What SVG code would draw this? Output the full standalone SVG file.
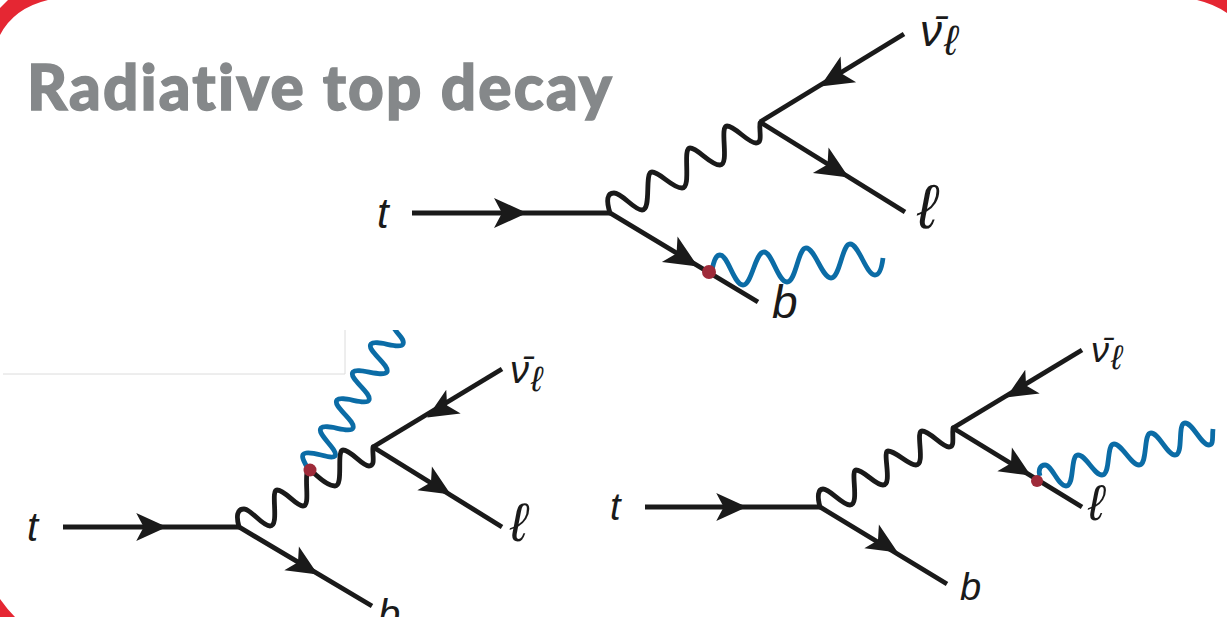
<svg xmlns="http://www.w3.org/2000/svg" width="1227" height="617" viewBox="0 0 1227 617">
<style>
.line{fill:none;stroke:#1a1a1a;stroke-width:4.8}
.w{fill:none;stroke:#1a1a1a;stroke-width:4.8;stroke-linecap:round;stroke-linejoin:round}
.ph{fill:none;stroke:#0b6ca6;stroke-width:4.8;stroke-linecap:butt;stroke-linejoin:round}
.dot{fill:#9e2a39}
.lab{font-family:"Liberation Sans",Arial,sans-serif;font-style:italic;fill:#1a1a1a}
.title{font-family:Lato,"Liberation Sans",sans-serif;font-weight:900;fill:#85888a;stroke:#85888a;stroke-width:1.4;letter-spacing:2.2px}
.corner{fill:#e52733}
</style>
<defs>
<path id="h" fill="#1a1a1a" d="M1,0 L-32,-15 L-24,0 L-32,15 Z"/>
</defs>
<rect width="1227" height="617" fill="#ffffff"/>
<g id="frame">
<path class="corner" d="M0,8 L8,0 L48,0 Q14,8 0,35 Z"/>
<path class="corner" d="M1197,0 L1227,0 L1227,13 Q1214,4 1197,0 Z"/>
<path class="corner" d="M0,599 Q7,609 15,617 L0,617 Z"/>
<path d="M3,374 H345 V330" fill="none" stroke="#dcdcdc" stroke-width="1"/>
</g>
<g id="title"><text class="title" x="27" y="110" font-size="62">Radiative top decay</text></g>
<g id="connectors">
<!-- top diagram -->
<path class="line" d="M412,213 H610 L758,302"/>
<path class="line" d="M760,122 L904,34"/>
<path class="line" d="M760,122 L905,212"/>
<path class="w" d="M610,213 C606,200 607,193 614,193 C622,193 634,210 642,210 C652,210 644,172 652,172 C660,172 672,188 682,188 C692,188 682,148 690,148 C698,148 710,165 720,165 C730,165 719,126 727,126 C735,126 748,143 756,143 C763,143 759,132 760,123"/>
<use href="#h" transform="translate(526,213)"/>
<use href="#h" transform="translate(821,86) rotate(148.8)"/>
<use href="#h" transform="translate(848,177) rotate(31.5)"/>
<use href="#h" transform="translate(697,266) rotate(31.5)"/>
<path class="ph" d="M712,270 C714,260 716,255 720,255 C728,255 734,285 743,285 C752,285 755,252 764,252 C772,252 778,282 787,282 C796,282 798,248 806,248 C815,248 822,278 831,278 C840,278 842,244 850,244 C859,244 866,275 875,275 C880,275 882,266 883,258"/>
<!-- bottom-left diagram -->
<path class="line" d="M63,527 H239 L372,606"/>
<path class="line" d="M373,447 L502,369"/>
<path class="line" d="M373,447 L502,527"/>
<path class="w" d="M239,527 C236,516 237,509 244,509 C251,509 262,526 270,526 C280,526 270,490 277,490 C285,490 296,506 303,506 C310,506 305,485 307,472 M310,470 C316,474 326,486 335,486 C344,486 336,450 343,450 C351,450 362,466 369,466 C376,466 372,455 373,447"/>
<use href="#h" transform="translate(166,527) scale(.93)"/>
<use href="#h" transform="translate(428,417) rotate(148.8) scale(.93)"/>
<use href="#h" transform="translate(450,494) rotate(31.5) scale(.93)"/>
<use href="#h" transform="translate(317,574) rotate(31.5) scale(.93)"/>
<svg x="0" y="330" width="1227" height="287" viewBox="0 330 1227 287" overflow="hidden">
<path class="ph" d="M307,467 C303,460 300,454 306,453 C314,451 331,460 335,456 C339,450 316,434 321,428 C326,423 350,434 353,428 C356,421 332,406 337,400 C342,395 366,406 369,400 C372,393 348,378 353,372 C358,367 382,378 387,372 C390,365 366,350 371,344 C376,339 400,350 403,344 C405,339 398,335 394,328"/>
</svg>
<!-- bottom-right diagram -->
<path class="line" d="M645,507 H820 L947,584"/>
<path class="line" d="M953,428 L1082,350"/>
<path class="line" d="M953,428 L1082,507"/>
<path class="w" d="M820,507 C817,496 818,489 823,489 C830,489 842,505 850,505 C860,505 850,470 856,470 C864,470 875,485 883,485 C893,485 882,451 888,451 C896,451 908,465 916,465 C926,465 915,431 922,431 C930,431 942,447 949,447 C955,447 952,438 953,428"/>
<use href="#h" transform="translate(746,507) scale(.93)"/>
<use href="#h" transform="translate(1007,397) rotate(148.8) scale(.93)"/>
<use href="#h" transform="translate(1030,475) rotate(31.5) scale(.93)"/>
<use href="#h" transform="translate(897,552) rotate(31.5) scale(.93)"/>
<path class="ph" d="M1040,476 C1038,470 1040,465 1045,465 C1052,465 1058,486 1066,486 C1075,486 1070,455 1078,455 C1086,455 1094,475 1102,475 C1111,475 1106,444 1114,444 C1122,444 1131,465 1139,465 C1148,465 1143,433 1151,433 C1159,433 1167,455 1175,455 C1184,455 1177,423 1185,423 C1193,423 1201,445 1209,445 C1214,445 1212,437 1213,429"/>
</g>
<g id="node-top-vertex-dot"><circle class="dot" cx="709" cy="272" r="7"/></g>
<g id="node-left-vertex-dot"><circle class="dot" cx="310" cy="470" r="6.5"/></g>
<g id="node-right-vertex-dot"><circle class="dot" cx="1037" cy="481" r="6"/></g>
<g id="node-top-labels">
<text class="lab" x="920" y="46" font-size="44">ν̄</text>
<text class="lab" x="377" y="228" font-size="42">t</text>
<text class="lab" x="944" y="55" font-size="42">ℓ</text>
<text class="lab" x="917" y="228" font-size="62">ℓ</text>
<text class="lab" x="772" y="318" font-size="46">b</text>
</g>
<g id="node-left-labels">
<text class="lab" x="27" y="541" font-size="40">t</text>
<text class="lab" x="510" y="383" font-size="38">ν̄</text>
<text class="lab" x="531" y="391" font-size="35">ℓ</text>
<text class="lab" x="510" y="541" font-size="54">ℓ</text>
<text class="lab" x="378" y="628" font-size="40">b</text>
</g>
<g id="node-right-labels">
<text class="lab" x="610" y="520" font-size="38">t</text>
<text class="lab" x="1091" y="362" font-size="36">ν̄</text>
<text class="lab" x="1111" y="369" font-size="34">ℓ</text>
<text class="lab" x="1088" y="520" font-size="50">ℓ</text>
<text class="lab" x="960" y="600" font-size="38">b</text>
</g>
</svg>
